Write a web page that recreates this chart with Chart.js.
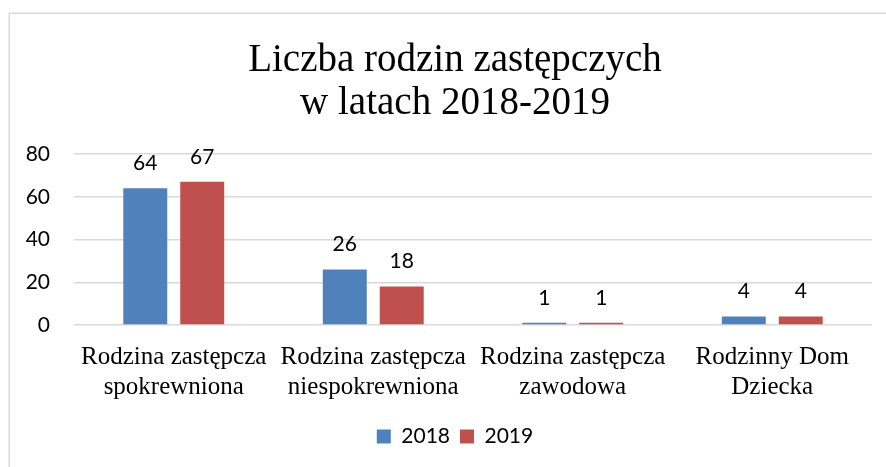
<!DOCTYPE html>
<html>
<head>
<meta charset="utf-8">
<script src="https://cdn.jsdelivr.net/npm/chart.js@4"></script>
<style>
  html, body { margin: 0; padding: 0; background: #fff; overflow: hidden; }
  #c { display: block; }
</style>
</head>
<body>
<canvas id="c" width="886" height="467"></canvas>
<script>
const categories = [
  ['Rodzina zastępcza', 'spokrewniona'],
  ['Rodzina zastępcza', 'niespokrewniona'],
  ['Rodzina zastępcza', 'zawodowa'],
  ['Rodzinny Dom', 'Dziecka']
];
const seriesNames = ['2018', '2019'];
const values2018 = [64, 26, 1, 4];
const values2019 = [67, 18, 1, 4];
const yTicks = [0, 20, 40, 60, 80];
const titleLines = ['Liczba rodzin zastępczych', 'w latach 2018-2019'];

const framePlugin = {
  id: 'frame',
  beforeDraw(chart) {
    const ctx = chart.ctx;
    ctx.save();
    ctx.fillStyle = '#fff';
    ctx.fillRect(0, 0, chart.width, chart.height);
    ctx.strokeStyle = '#d9d9d9';
    ctx.lineWidth = 1.5;
    ctx.strokeRect(9.25, 13.25, 1000, 1000);
    ctx.restore();
  }
};

const labelPlugin = {
  id: 'valueLabels',
  afterDatasetsDraw(chart) {
    const ctx = chart.ctx;
    ctx.save();
    ctx.font = '21px Lato';
    ctx.fillStyle = '#000';
    ctx.textAlign = 'center';
    ctx.textBaseline = 'middle';
    chart.data.datasets.forEach((ds, i) => {
      const meta = chart.getDatasetMeta(i);
      meta.data.forEach((bar, j) => {
        ctx.fillText(String(ds.data[j]), bar.x, bar.y - 25);
      });
    });
    ctx.restore();
  }
};

new Chart(document.getElementById('c'), {
  type: 'bar',
  data: {
    labels: categories,
    datasets: [
      { label: seriesNames[0], data: values2018, backgroundColor: '#4F81BD', borderWidth: 0 },
      { label: seriesNames[1], data: values2019, backgroundColor: '#C0504D', borderWidth: 0 }
    ]
  },
  options: {
    responsive: false,
    animation: false,
    devicePixelRatio: 1,
    layout: { autoPadding: false, padding: { left: 24, right: 0, top: 0, bottom: 10 } },
    datasets: { bar: { categoryPercentage: 0.571, barPercentage: 0.772 } },
    plugins: {
      title: {
        display: true,
        text: titleLines,
        color: '#000',
        font: { family: 'Liberation Serif', size: 39, weight: 'normal', lineHeight: 1.1 },
        padding: { top: 39, bottom: 29.2 }
      },
      legend: {
        position: 'bottom',
        labels: {
          boxWidth: 14, boxHeight: 14, padding: 10,
          color: '#000',
          font: { family: 'Lato', size: 21 }
        }
      },
      tooltip: { enabled: false }
    },
    scales: {
      x: {
        grid: { display: false, drawTicks: false },
        border: { display: false },
        ticks: {
          color: '#000',
          padding: 17,
          maxRotation: 0,
          autoSkip: false,
          font: { family: 'Liberation Serif', size: 25, lineHeight: 1.2 }
        },
        afterFit(s) { s.height = 91; }
      },
      y: {
        min: 0, max: 80,
        afterBuildTicks(s) { s.ticks = yTicks.map(v => ({ value: v })); },
        grid: { color: '#d9d9d9', lineWidth: 1.5, drawTicks: false },
        border: { display: false },
        ticks: {
          color: '#000',
          padding: 24,
          font: { family: 'Lato', size: 21 }
        },
        afterFit(s) { s.width = 50; }
      },
      yRight: {
        position: 'right',
        grid: { display: false, drawTicks: false },
        border: { display: false },
        ticks: { display: false },
        afterFit(s) { s.width = 14; }
      }
    }
  },
  plugins: [framePlugin, labelPlugin]
});
</script>
</body>
</html>
